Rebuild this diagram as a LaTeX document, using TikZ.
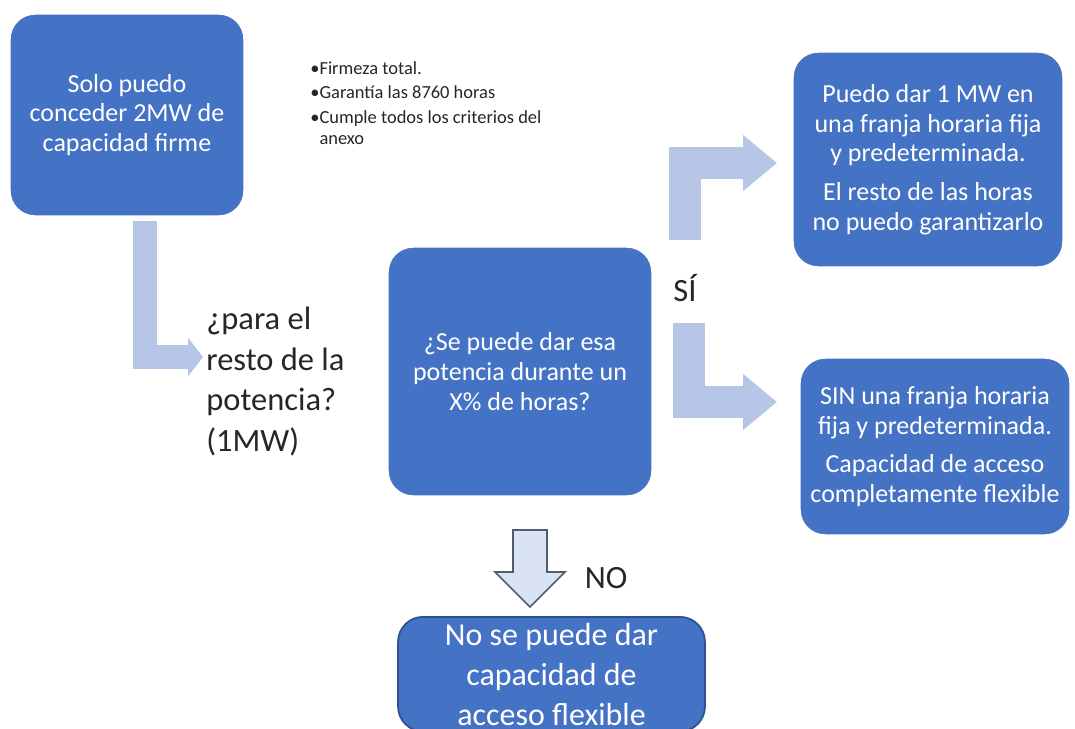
\documentclass[tikz,border=0pt]{standalone}
\usepackage{fontspec}
\setmainfont{Carlito}
\usetikzlibrary{arrows.meta}

\definecolor{azulcaja}{RGB}{68,114,196}
\definecolor{bordecaja}{RGB}{47,82,143}
\definecolor{azulflecha}{RGB}{183,198,230}
\definecolor{rellenono}{RGB}{218,227,243}
\definecolor{bordeno}{RGB}{80,92,112}
\definecolor{textogris}{RGB}{38,38,38}

\tikzset{
  caja/.style={rectangle, rounded corners=0.5cm, fill=azulcaja, draw=white,
    line width=0.8pt, text=white, align=center,
    font=\fontsize{14.8}{16.9}\selectfont},
  flechagruesa/.style={draw=azulflecha, line width=0.64cm,
    -{Triangle[length=0.68cm, width=1.08cm]}},
  flechafina/.style={draw=azulflecha, line width=0.48cm,
    -{Triangle[length=0.3cm, width=0.76cm]}},
  flechano/.style={fill=rellenono, draw=bordeno, line width=0.9pt, line join=miter},
  rotulo/.style={text=textogris, font=\fontsize{18.5}{23}\selectfont, inner sep=0pt},
}

\begin{document}
\begin{tikzpicture}[x=0.02cm, y=-0.02cm]
  \useasboundingbox (0,0) rectangle (1075,729);
  \clip (0,0) rectangle (1075,729);

  % Cajas
  \node[caja, minimum width=4.68cm, minimum height=4.04cm] (solo) at (127,115)
    {Solo puedo\\conceder 2MW de\\capacidad firme};
  \node[caja, minimum width=5.28cm, minimum height=4.98cm] (pregunta) at (520,371.5)
    {¿Se puede dar esa\\potencia durante un\\X\% de horas?};
  \node[caja, minimum width=5.4cm, minimum height=4.3cm] (franja) at (928,159.5)
    {Puedo dar 1 MW en\\una franja horaria fija\\y predeterminada.\\[5pt]El resto de las horas\\no puedo garantizarlo};
  \node[caja, minimum width=5.4cm, minimum height=3.54cm] (flexible) at (935,446.5)
    {SIN una franja horaria\\fija y predeterminada.\\[5pt]Capacidad de acceso\\completamente flexible};
  \node[caja, draw=bordecaja, line width=1pt, minimum width=6.14cm, inner ysep=0.12cm,
    anchor=north, font=\fontsize{18.2}{22.8}\selectfont] (noflex) at (551.5,616)
    {No se puede dar\\capacidad de\\acceso flexible};

  % Notas
  \node[text=textogris, align=left, anchor=north west, inner sep=0pt,
    font=\fontsize{10.5}{11.6}\selectfont] (notas) at (310,61)
    {•Firmeza total.\\[2.5pt]•Garantía las 8760 horas\\[2.5pt]•Cumple todos los criterios del\\\hphantom{•}anexo};
  \node[rotulo, align=left, anchor=north west] (resto) at (206,307)
    {¿para el\\resto de la\\potencia?\\(1MW)};
  \node[rotulo] (si) at (685,288) {SÍ};
  \node[rotulo] (no) at (606,578) {NO};

  % Flechas
  \coordinate (a1) at (145,221);
  \coordinate (b1) at (203,357);
  \draw[flechafina] (a1) |- (b1);
  \coordinate (a2) at (684.5,240);
  \coordinate (b2) at (777,163);
  \draw[flechagruesa] (a2) |- (b2);
  \coordinate (a3) at (689,323);
  \coordinate (b3) at (777,402);
  \draw[flechagruesa] (a3) |- (b3);
  \draw[flechano] (513,530) -- (547,530) -- (547,572) -- (565,572) -- (530,607)
    -- (495,572) -- (513,572) -- cycle;
\end{tikzpicture}
\end{document}
